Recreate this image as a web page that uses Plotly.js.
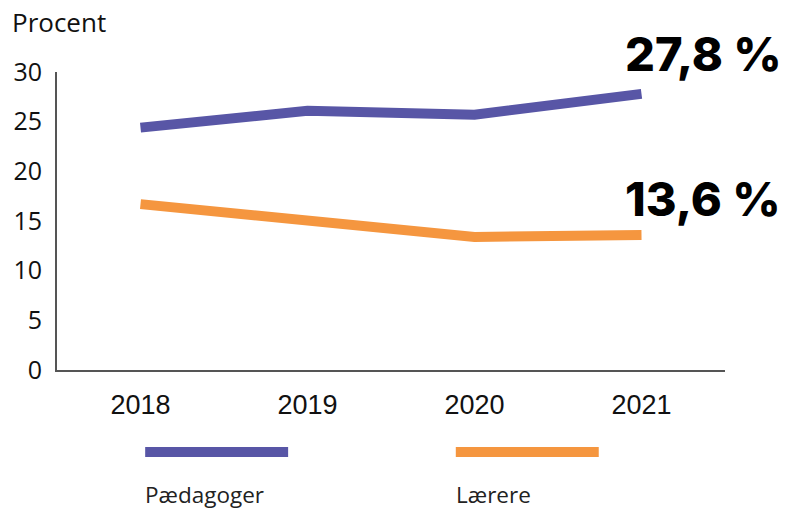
<!DOCTYPE html>
<html>
<head>
<meta charset="utf-8">
<script src="https://cdn.plot.ly/plotly-3.0.1.min.js"></script>
<style>
  html, body { margin: 0; padding: 0; background: #fff; }
  #chart { width: 786px; height: 509px; }
</style>
</head>
<body>
<div id="chart"></div>
<script>
// Andel i procent, 2018-2021
const years = ['2018', '2019', '2020', '2021'];
const paedagoger = [24.4, 26.1, 25.7, 27.8];
const laerere = [16.7, 15.1, 13.4, 13.6];
const seriesNames = ['Pædagoger', 'Lærere'];
const endLabels = ['27,8 %', '13,6 %'];

const purple = '#5856a6';
const orange = '#f5963f';

const traces = [
    {
        x: years, y: paedagoger, name: seriesNames[0],
        type: 'scatter', mode: 'lines',
        line: { color: purple, width: 10 },
        hoverinfo: 'skip'
    },
    {
        x: years, y: laerere, name: seriesNames[1],
        type: 'scatter', mode: 'lines',
        line: { color: orange, width: 10 },
        hoverinfo: 'skip'
    }
];

// legend drawn by hand: swatch above, name below
const legendItems = [
    { name: seriesNames[0], color: purple, x0: 0.132, x1: 0.346 },
    { name: seriesNames[1], color: orange, x0: 0.597, x1: 0.811 }
];

const shapes = legendItems.map(it => ({
    type: 'line', xref: 'paper', yref: 'paper',
    x0: it.x0, x1: it.x1, y0: -0.275, y1: -0.275,
    line: { color: it.color, width: 10 }
}));

const bigFont = { family: 'Inter, sans-serif', size: 47, color: '#000', weight: 800 };

const annotations = [
    ...legendItems.map(it => ({
        text: it.name, xref: 'paper', yref: 'paper',
        x: it.x0, y: -0.419, xanchor: 'left', yanchor: 'middle',
        xshift: -2, showarrow: false,
        font: { family: 'Open Sans, sans-serif', size: 22.5, color: '#222' }
    })),
    {
        text: endLabels[0], xref: 'x', yref: 'y',
        x: 3, y: paedagoger[3], xanchor: 'left', yanchor: 'middle',
        xshift: -19, yshift: 40, showarrow: false, font: bigFont
    },
    {
        text: endLabels[1], xref: 'x', yref: 'y',
        x: 3, y: laerere[3], xanchor: 'left', yanchor: 'middle',
        xshift: -19, yshift: 36, showarrow: false, font: bigFont
    },
    {
        text: 'Procent', xref: 'paper', yref: 'paper',
        x: -0.07, y: 1.168, xanchor: 'left', yanchor: 'middle',
        showarrow: false,
        font: { family: 'Open Sans, sans-serif', size: 26, color: '#111' }
    }
];

const layout = {
    width: 786,
    height: 509,
    margin: { l: 57, r: 61, t: 72, b: 139 },
    paper_bgcolor: '#fff',
    plot_bgcolor: '#fff',
    showlegend: false,
    font: { family: 'Open Sans, sans-serif', size: 22, color: '#111' },
    xaxis: {
        type: 'category',
        range: [-0.5, 3.5],
        showgrid: false,
        zeroline: false,
        showline: true,
        linecolor: '#555',
        linewidth: 2,
        ticks: '',
        ticklabelstandoff: 10,
        tickfont: { family: 'Liberation Sans, sans-serif', size: 27, color: '#111' }
    },
    yaxis: {
        range: [0, 30],
        dtick: 5,
        showgrid: false,
        zeroline: false,
        showline: true,
        linecolor: '#555',
        linewidth: 2,
        ticks: '',
        ticklabelstandoff: 8,
        tickfont: { family: 'Open Sans, sans-serif', size: 25, color: '#111' }
    },
    shapes: shapes,
    annotations: annotations
};

Plotly.newPlot('chart', traces, layout, { displayModeBar: false, staticPlot: true });
</script>
</body>
</html>
